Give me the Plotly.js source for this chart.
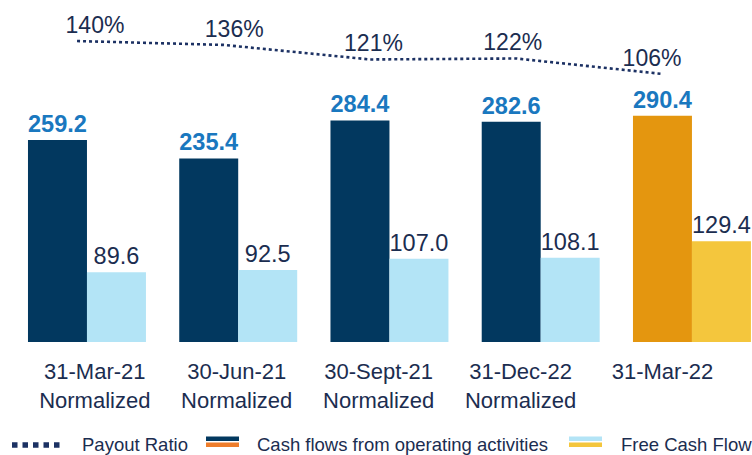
<!DOCTYPE html>
<html>
<head>
<meta charset="utf-8">
<script src="https://cdn.plot.ly/plotly-3.0.1.min.js"></script>
<style>html,body{margin:0;padding:0;background:#fff;}#chart{width:752px;height:455px;}</style>
</head>
<body>
<div id="chart"></div>
<script>
// ---- data ----
const categories = ['31-Mar-21 Normalized', '30-Jun-21 Normalized', '30-Sept-21 Normalized', '31-Dec-22 Normalized', '31-Mar-22'];
const tickLabels = ['31-Mar-21<br>Normalized', '30-Jun-21<br>Normalized', '30-Sept-21<br>Normalized', '31-Dec-22<br>Normalized', '31-Mar-22'];
const cashOps = [259.2, 235.4, 284.4, 282.6, 290.4];
const freeCashFlow = [89.6, 92.5, 107.0, 108.1, 129.4];
const payoutRatio = [140, 136, 121, 122, 106];
const seriesNames = ['Payout Ratio', 'Cash flows from operating activities', 'Free Cash Flow'];

// ---- styles ----
const FONT = 'Liberation Sans, Arial, sans-serif';
const NAVY = '#02385f', ORANGE = '#e4960f', LIGHT = '#b3e4f6', YELLOW = '#f4c63d';
const TXT = '#1b2d50', BLUE = '#1a78bf', LINE = '#1c3163';
const opsColors = categories.map((c, i) => i === categories.length - 1 ? ORANGE : NAVY);
const fcfColors = categories.map((c, i) => i === categories.length - 1 ? YELLOW : LIGHT);

const traces = [
  {
    type: 'bar', x: categories, y: cashOps, name: seriesNames[1],
    marker: {color: opsColors, line: {width: 0}},
    texttemplate: '<b>%{y:.1f}</b>', textposition: 'outside', cliponaxis: false,
    textfont: {family: FONT, size: 27, color: BLUE},
    hoverinfo: 'none'
  },
  {
    type: 'bar', x: categories, y: freeCashFlow, name: seriesNames[2],
    marker: {color: fcfColors, line: {width: 0}},
    texttemplate: '%{y:.1f}', textposition: 'outside', cliponaxis: false,
    textfont: {family: FONT, size: 23.5, color: TXT},
    hoverinfo: 'none'
  },
  {
    type: 'scatter', mode: 'lines', x: categories, y: payoutRatio, name: seriesNames[0],
    xaxis: 'x2', yaxis: 'y2',
    line: {color: LINE, width: 2.6, dash: 'dot'},
    hoverinfo: 'none'
  },
  {
    type: 'scatter', mode: 'text', x: categories, y: payoutRatio,
    text: payoutRatio.map(v => v + '%'),
    xaxis: 'x4', yaxis: 'y3', textposition: 'top center', cliponaxis: false,
    textfont: {family: FONT, size: 23, color: TXT},
    hoverinfo: 'none', showlegend: false
  },
  {
    // invisible carrier so the category tick-label axis is drawn
    type: 'scatter', mode: 'markers', x: categories, y: freeCashFlow,
    xaxis: 'x3', yaxis: 'y', marker: {opacity: 0, size: 1},
    hoverinfo: 'none', showlegend: false
  }
];

const hidden = {showgrid: false, zeroline: false, showline: false, showticklabels: false, ticks: ''};
const PH = 342; // plot height
const py = px => (PH - px) / PH; // pixel -> paper y
const pxX = px => px / 752;

const shapes = [
  {type: 'line', xref: 'paper', yref: 'paper', x0: pxX(12), x1: pxX(64), y0: py(445), y1: py(445),
   line: {color: LINE, width: 5.5, dash: '5.5px,5px'}},
  {type: 'rect', xref: 'paper', yref: 'paper', x0: pxX(206), x1: pxX(239), y0: py(441), y1: py(436.5), fillcolor: NAVY, line: {width: 0}},
  {type: 'rect', xref: 'paper', yref: 'paper', x0: pxX(206), x1: pxX(239), y0: py(447), y1: py(442.5), fillcolor: '#ee7d2b', line: {width: 0}},
  {type: 'rect', xref: 'paper', yref: 'paper', x0: pxX(569), x1: pxX(602), y0: py(441), y1: py(436.5), fillcolor: LIGHT, line: {width: 0}},
  {type: 'rect', xref: 'paper', yref: 'paper', x0: pxX(569), x1: pxX(602), y0: py(447), y1: py(442.5), fillcolor: YELLOW, line: {width: 0}}
];
const legX = [80, 255, 619];
const annotations = seriesNames.map((n, i) => ({
  xref: 'paper', yref: 'paper', x: pxX(legX[i]), y: py(444.5), xanchor: 'left', yanchor: 'middle',
  text: n, showarrow: false, font: {family: FONT, size: 18.5, color: TXT}
}));

const layout = {
  width: 752, height: 455,
  margin: {l: 0, r: 0, t: 0, b: 455 - PH, pad: 0},
  paper_bgcolor: '#fff', plot_bgcolor: '#fff',
  showlegend: false,
  barmode: 'group', bargap: 0.22, bargroupgap: 0,
  xaxis: Object.assign({type: 'category', range: [-0.575, 4.397]}, hidden),
  xaxis2: Object.assign({type: 'category', overlaying: 'x', anchor: 'y2', range: [-0.526, 4.608]}, hidden),
  xaxis3: {type: 'category', overlaying: 'x', anchor: 'y', side: 'bottom', range: [-0.668, 4.631],
    tickmode: 'array', tickvals: categories, ticktext: tickLabels,
    showgrid: false, zeroline: false, showline: false, ticks: '', ticklabelstandoff: 14,
    tickfont: {family: FONT, size: 22, color: TXT}},
  xaxis4: Object.assign({type: 'category', overlaying: 'x', anchor: 'y3', range: [-0.682, 4.718]}, hidden),
  yaxis: Object.assign({range: [0, 439]}, hidden),
  yaxis2: Object.assign({overlaying: 'y', range: [-170.3, 182.3]}, hidden),
  yaxis3: Object.assign({overlaying: 'y', range: [-173.0, 179.6]}, hidden),
  shapes: shapes,
  annotations: annotations,
  font: {family: FONT, color: TXT}
};

Plotly.newPlot('chart', traces, layout, {displayModeBar: false, staticPlot: true});
</script>
</body>
</html>
